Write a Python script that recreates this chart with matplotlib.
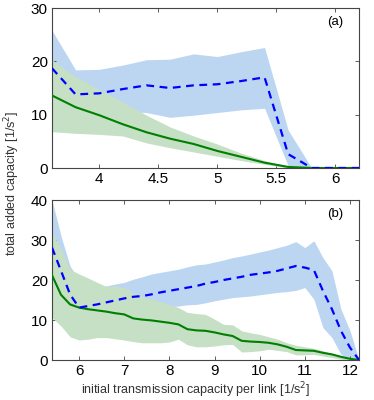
import numpy as np
import matplotlib
matplotlib.use("Agg")
import matplotlib.pyplot as plt

plt.rcParams['font.family'] = ['Liberation Sans', 'DejaVu Sans']

# panel (a)
xa = [3.6, 3.8, 4.0, 4.2, 4.4, 4.6, 4.8, 5.0, 5.2, 5.4, 5.6, 5.8, 6.0, 6.2]
blue_a = [18.7, 13.8, 14.0, 14.8, 15.5, 15.0, 15.5, 15.7, 16.3, 17.0, 2.6, 0, 0, 0]
blue_a_hi = [25.8, 18.4, 18.5, 19.3, 20.3, 20.4, 21.4, 20.9, 21.8, 22.6, 7.1, 0, 0, 0]
blue_a_lo = [12.0, 11.0, 10.8, 10.6, 10.4, 9.5, 9.9, 10.4, 10.9, 11.2, 0.4, 0, 0, 0]
green_a = [13.6, 11.4, 9.9, 8.2, 6.7, 5.5, 4.5, 3.2, 2.1, 1.0, 0.2, 0, 0, 0]
green_a_hi = [20.3, 17.1, 14.7, 12.4, 9.9, 7.7, 6.0, 4.5, 2.8, 1.4, 0.3, 0, 0, 0]
green_a_lo = [6.8, 6.5, 6.3, 6.0, 4.7, 3.8, 3.0, 2.2, 1.4, 0.7, 0, 0, 0, 0]

# panel (b)
xb = [5.4, 5.6, 5.8, 6.0, 6.2, 6.4, 6.6, 6.8, 7.0, 7.2, 7.4, 7.6, 7.8, 8.0,
      8.2, 8.4, 8.6, 8.8, 9.0, 9.2, 9.4, 9.6, 9.8, 10.0, 10.2, 10.4, 10.6,
      10.8, 11.0, 11.2, 11.4, 11.6, 11.8, 12.0, 12.2]
blue_b = [28.1, 22.3, 16.4, 13.1, 13.5, 13.9, 14.4, 14.9, 15.4, 15.8, 16.0,
          16.4, 16.9, 17.3, 17.7, 18.1, 18.5, 19.1, 19.5, 20.0, 20.4, 20.8,
          21.3, 21.6, 21.9, 22.3, 22.9, 23.5, 23.1, 22.5, 17.3, 12.7, 7.3, 3.1, 0]
blue_b_hi = [40.0, 31.0, 23.5, 20.0, 19.0, 18.5, 18.5, 19.0, 19.4, 20.2, 20.8,
             21.5, 21.9, 22.3, 22.7, 23.3, 23.8, 24.0, 24.5, 25.0, 25.6, 26.0,
             26.5, 27.0, 27.5, 28.1, 28.7, 29.6, 28.1, 29.8, 25.6, 22.3, 12.7, 7.3, 0]
blue_b_lo = [20.0, 16.0, 13.0, 12.5, 13.0, 13.0, 13.0, 13.0, 13.0, 13.0, 13.0,
             13.1, 13.2, 13.3, 13.5, 13.8, 13.9, 14.3, 14.8, 15.2, 15.6, 15.8,
             16.0, 16.3, 16.6, 16.9, 17.1, 17.4, 18.1, 15.2, 8.1, 5.6, 1.4, 0.2, 0]
green_b = [21.2, 16.3, 13.9, 13.1, 12.7, 12.4, 12.1, 11.7, 11.4, 10.4, 10.1,
           9.9, 9.6, 9.3, 8.9, 7.7, 7.4, 7.3, 6.9, 6.4, 6.0, 4.8, 4.6, 4.5,
           4.3, 3.9, 3.3, 2.5, 2.4, 2.3, 1.8, 1.4, 0.8, 0.3, 0]
green_b_hi = [31.9, 27.7, 22.7, 21.5, 20.5, 19.4, 18.4, 18.5, 18.1, 16.9, 15.8,
              15.2, 14.6, 13.9, 13.1, 11.9, 11.6, 11.4, 10.2, 8.9, 8.8, 7.3,
              6.8, 6.4, 5.8, 5.2, 4.3, 3.7, 3.3, 2.9, 2.3, 1.6, 1.0, 0.4, 0]
green_b_lo = [10.6, 8.5, 5.8, 5.0, 5.2, 5.6, 5.6, 5.3, 5.0, 4.6, 4.3, 4.3,
              4.3, 4.5, 5.2, 3.8, 3.3, 3.3, 3.5, 3.8, 3.9, 2.0, 2.1, 2.3, 2.7,
              2.4, 2.1, 1.3, 1.3, 1.4, 1.0, 0.6, 0.2, 0, 0]

blue_fill = '#bcd6f2'
green_fill = '#c5e0c5'

fig = plt.figure(figsize=(3.74, 4.0), dpi=100)
ax1 = fig.add_axes([0.139, 0.58, 0.821, 0.40])
ax2 = fig.add_axes([0.139, 0.10, 0.821, 0.40])

panels = [
    (ax1, xa, blue_a, blue_a_lo, blue_a_hi, green_a, green_a_lo, green_a_hi),
    (ax2, xb, blue_b, blue_b_lo, blue_b_hi, green_b, green_b_lo, green_b_hi),
]
for ax, x, b, blo, bhi, g, glo, ghi in panels:
    ax.fill_between(x, blo, bhi, color=blue_fill, lw=0, zorder=1)
    ax.fill_between(x, glo, ghi, color=green_fill, lw=0, zorder=2)
    ax.plot(x, g, color='#007f00', lw=1.5, zorder=3)
    ax.plot(x, b, color='#0000ff', lw=1.6, ls=(0, (3.5, 2.5)), zorder=4)
    ax.tick_params(direction='in', top=True, right=True, labelsize=11,
                   length=3, width=0.6, colors='#444444', labelcolor='black', pad=3)
    for s in ax.spines.values():
        s.set_color('#444444')
        s.set_linewidth(0.8)

ax1.set_xlim(3.6, 6.2)
ax1.set_ylim(0, 30)
ax1.set_xticks([4, 4.5, 5, 5.5, 6])
ax1.set_xticklabels(['4', '4.5', '5', '5.5', '6'])
ax1.set_yticks([0, 10, 20, 30])
ax1.text(0.95, 0.91, '(a)', transform=ax1.transAxes, ha='right', va='center', fontsize=9.5)

ax2.set_xlim(5.4, 12.2)
ax2.set_ylim(0, 40)
ax2.set_xticks([6, 7, 8, 9, 10, 11, 12])
ax2.set_yticks([0, 10, 20, 30, 40])
ax2.text(0.95, 0.91, '(b)', transform=ax2.transAxes, ha='right', va='center', fontsize=9.5)

fig.text(0.032, 0.5425, 'total added capacity [1/s$^2$]', rotation=90,
         ha='center', va='center', fontsize=9, color='#333333')
fig.text(0.524, 0.025, 'initial transmission capacity per link [1/s$^2$]',
         ha='center', va='center', fontsize=9, color='#333333')

fig.savefig('out.png', dpi=100)
